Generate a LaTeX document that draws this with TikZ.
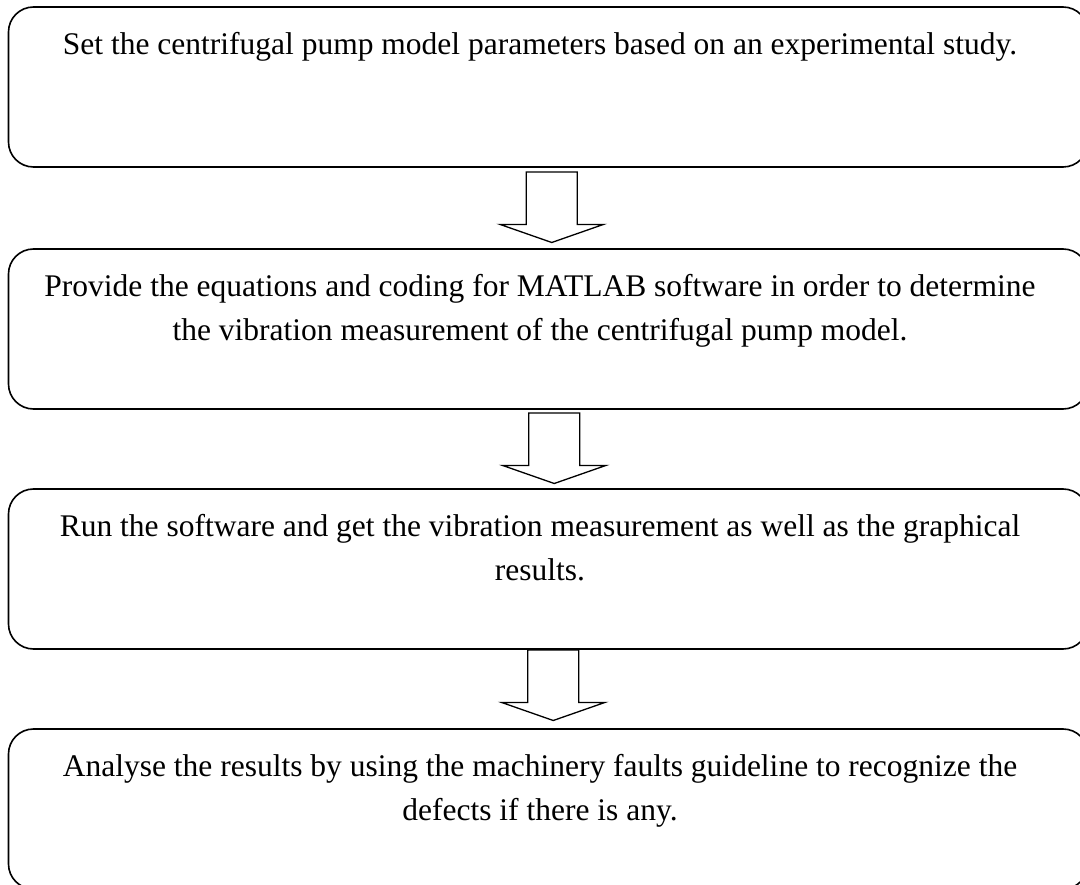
\documentclass[tikz,border=0pt]{standalone}
\usepackage{fontspec}
\setmainfont{Liberation Serif}
\usetikzlibrary{calc}
\tikzset{
  stepbox/.style={draw, line width=1.6pt, rounded corners=25pt, minimum width=1079.5pt, minimum height=160pt, inner sep=0pt, outer sep=0pt},
  txt/.style={font=\fontsize{31.5}{40}\selectfont, anchor=base, inner sep=0pt},
  blockarrow/.style={draw, line width=1.3pt, fill=white, line join=miter},
}
\newcommand\blockarr[1]{%
  \draw[blockarrow] ($(#1)+(-25.5,0)$) -- ($(#1)+(-25.5,52.5)$) -- ($(#1)+(-51.5,52.5)$)
    -- ($(#1)+(0,70.5)$) -- ($(#1)+(51.5,52.5)$) -- ($(#1)+(25.5,52.5)$) -- ($(#1)+(25.5,0)$) -- cycle;}
\begin{document}
\begin{tikzpicture}[x=1pt,y=-1pt]
\useasboundingbox (0,0) rectangle (1080,885);
\clip (0,0) rectangle (1080,885);
\node[stepbox] (b1) at (548.25,87) {};
\node[stepbox] (b2) at (548.25,329) {};
\node[stepbox] (b3) at (548.25,569) {};
\node[stepbox] (b4) at (548.25,809) {};

\node[txt] (t1) at (540,55) {Set the centrifugal pump model parameters based on an experimental study.};
\node[txt] (t2a) at (540,297) {Provide the equations and coding for MATLAB software in order to determine};
\node[txt] (t2b) at (540,341) {the vibration measurement of the centrifugal pump model.};
\node[txt] (t3a) at (540,536) {Run the software and get the vibration measurement as well as the graphical};
\node[txt] (t3b) at (540,580) {results.};
\node[txt] (t4a) at (540,776) {Analyse the results by using the machinery faults guideline to recognize the};
\node[txt] (t4b) at (540,820) {defects if there is any.};

\coordinate (a1) at ($(b1.south)+(3.5,5)$);
\coordinate (a2) at ($(b2.south)+(6,4)$);
\coordinate (a3) at ($(b3.south)+(5,1)$);
\blockarr{a1}
\blockarr{a2}
\blockarr{a3}
\end{tikzpicture}
\end{document}
